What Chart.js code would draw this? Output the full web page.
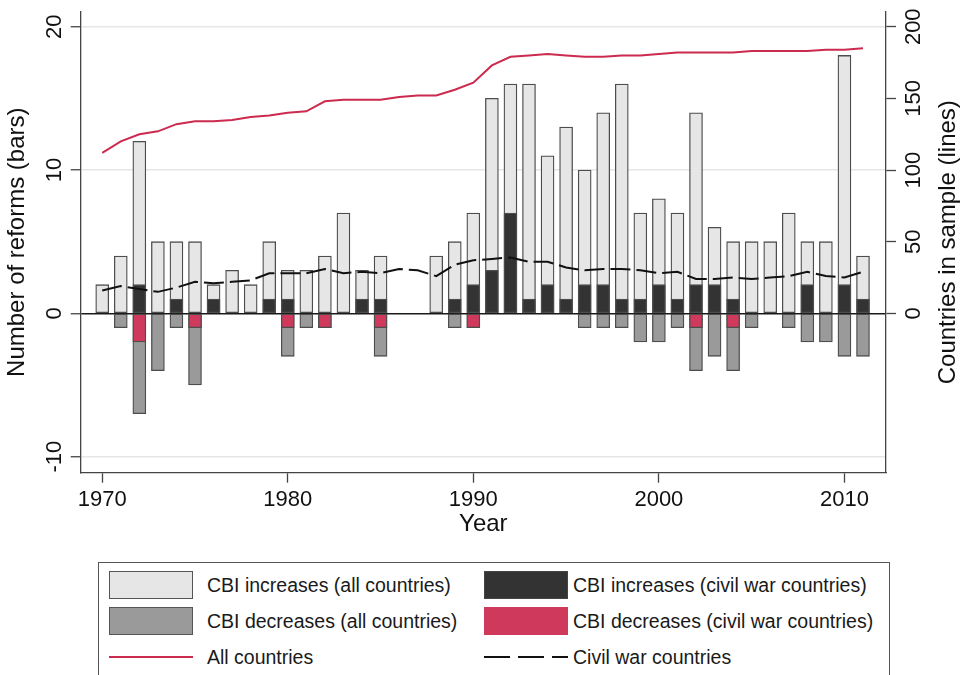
<!DOCTYPE html>
<html>
<head>
<meta charset="utf-8">
<script src="https://cdn.jsdelivr.net/npm/chart.js@4.4.1/dist/chart.umd.min.js"></script>
<style>
body { margin: 0; background: #fff; font-family: 'Liberation Sans', Arial, sans-serif; }
#wrap { position: relative; width: 962px; height: 675px; overflow: hidden; }
#chartCBI { position: absolute; left: 0; top: 0; }
.legend { position: absolute; left: 98px; top: 562px; width: 792px; height: 125px; border: 1.5px solid #555; box-sizing: border-box; }
.sw { position: absolute; width: 84px; height: 28px; box-sizing: border-box; }
.lbl { position: absolute; font-size: 19.5px; line-height: 28px; color: #1a1a1a; white-space: nowrap; }
</style>
</head>
<body>
<div id="wrap">
	<canvas id="chartCBI" width="962" height="550"></canvas>
	<div class="legend">
		<div class="sw" style="left:10px; top:8px; background:#e6e6e6; border:1.5px solid #555;"></div>
		<div class="lbl" style="left:108px; top:8px;">CBI increases (all countries)</div>
		<div class="sw" style="left:385px; top:8px; background:#333; border:1.5px solid #444;"></div>
		<div class="lbl" style="left:474px; top:8px;">CBI increases (civil war countries)</div>
		<div class="sw" style="left:10px; top:44px; background:#9a9a9a; border:1.5px solid #555;"></div>
		<div class="lbl" style="left:108px; top:44px;">CBI decreases (all countries)</div>
		<div class="sw" style="left:385px; top:44px; background:#cf3a5c;"></div>
		<div class="lbl" style="left:474px; top:44px;">CBI decreases (civil war countries)</div>
		<svg style="position:absolute; left:10px; top:80px;" width="84" height="28"><line x1="0" y1="14" x2="84" y2="14" stroke="#cc2a4e" stroke-width="2"/></svg>
		<div class="lbl" style="left:108px; top:80px;">All countries</div>
		<svg style="position:absolute; left:385px; top:80px;" width="84" height="28"><line x1="0" y1="14" x2="84" y2="14" stroke="#111" stroke-width="2" stroke-dasharray="26 8"/></svg>
		<div class="lbl" style="left:474px; top:80px;">Civil war countries</div>
	</div>
</div>
<script>
const years = [1970, 1971, 1972, 1973, 1974, 1975, 1976, 1977, 1978, 1979,
	1980, 1981, 1982, 1983, 1984, 1985, 1986, 1987, 1988, 1989,
	1990, 1991, 1992, 1993, 1994, 1995, 1996, 1997, 1998, 1999,
	2000, 2001, 2002, 2003, 2004, 2005, 2006, 2007, 2008, 2009,
	2010, 2011];

// reforms per year (bars, left axis)
const incAll   = [2, 4, 12, 5, 5, 5, 2, 3, 2, 5, 3, 3, 4, 7, 3, 4, 0, 0, 4, 5, 7, 15, 16, 16, 11, 13, 10, 14, 16, 7, 8, 7, 14, 6, 5, 5, 5, 7, 5, 5, 18, 4];
const incCivil = [0, 0, 2, 0, 1, 0, 1, 0, 0, 1, 1, 0, 0, 0, 1, 1, 0, 0, 0, 1, 2, 3, 7, 1, 2, 1, 2, 2, 1, 1, 2, 1, 2, 2, 1, 0, 0, 0, 2, 0, 2, 1];
const decAll   = [0, -1, -7, -4, -1, -5, 0, 0, 0, 0, -3, -1, -1, 0, 0, -3, 0, 0, 0, -1, -1, 0, 0, 0, 0, 0, -1, -1, -1, -2, -2, -1, -4, -3, -4, -1, 0, -1, -2, -2, -3, -3];
const decCivil = [0, 0, -2, 0, 0, -1, 0, 0, 0, 0, -1, 0, -1, 0, 0, -1, 0, 0, 0, 0, -1, 0, 0, 0, 0, 0, 0, 0, 0, 0, 0, 0, -1, 0, -1, 0, 0, 0, 0, 0, 0, 0];

// countries in sample (lines, right axis)
const sampleAll   = [112, 120, 125, 127, 132, 134, 134, 135, 137, 138, 140, 141, 148, 149, 149, 149, 151, 152, 152, 156,
	161, 173, 179, 180, 181, 180, 179, 179, 180, 180, 181, 182, 182, 182, 182, 183, 183, 183, 183, 184, 184, 185];
const sampleCivil = [16, 19, 17, 15, 18, 22, 21, 22, 23, 28, 28, 28, 31, 28, 29, 28, 31, 30, 26, 34,
	37, 38, 39, 36, 36, 32, 30, 31, 31, 30, 28, 29, 24, 24, 25, 24, 25, 26, 29, 26, 25, 29];

const yearTicks = [1970, 1980, 1990, 2000, 2010];
const reformTicks = [-10, 0, 10, 20];
const countryTicks = [0, 50, 100, 150, 200];

const FONT = "'Liberation Sans', Arial, sans-serif";
Chart.defaults.font.family = FONT;
Chart.defaults.color = '#111';

function barPoints(values) {
	return years.map((y, i) => ({x: y, y: values[i] === 0 ? null : values[i]}));
}

function linePoints(values) {
	return years.map((y, i) => ({x: y, y: values[i]}));
}

function barSet(label, values, color, order) {
	return {
		type: 'bar',
		label: label,
		data: barPoints(values),
		backgroundColor: color,
		borderColor: '#4d4d4d',
		borderWidth: 1.3,
		borderSkipped: false,
		barThickness: 13,
		grouped: false,
		yAxisID: 'y',
		order: order
	};
}

// no extra room for the rotated tick labels, the plot box is fixed
function noPadding(s) {
	s.paddingTop = 0;
	s.paddingBottom = 0;
	s.paddingLeft = 0;
	s.paddingRight = 0;
}

const rightTitle = {
	id: 'rightTitle',
	afterDraw: (chart) => {
		const {ctx} = chart;
		const s = chart.scales.y2;
		ctx.save();
		ctx.translate(s.right - 13.4, (s.top + s.bottom) / 2);
		ctx.rotate(-Math.PI / 2);
		ctx.font = '24px ' + FONT;
		ctx.fillStyle = '#111';
		ctx.textAlign = 'center';
		ctx.textBaseline = 'middle';
		ctx.fillText('Countries in sample (lines)', 0, 0);
		ctx.restore();
	}
};

const axisColor = '#444';

let chartConfig = {
	type: 'bar',
	data: {
		datasets: [
			{
				type: 'line',
				label: 'All countries',
				data: linePoints(sampleAll),
				borderColor: '#cc2a4e',
				borderWidth: 2,
				pointRadius: 0,
				fill: false,
				yAxisID: 'y2',
				order: 0
			},
			{
				type: 'line',
				label: 'Civil war countries',
				data: linePoints(sampleCivil),
				borderColor: '#111',
				borderWidth: 2,
				borderDash: [20, 6],
				pointRadius: 0,
				fill: false,
				yAxisID: 'y2',
				order: 0
			},
			barSet('CBI increases (civil war countries)', incCivil, '#333333', 1),
			barSet('CBI decreases (civil war countries)', decCivil, '#cf3a5c', 1),
			barSet('CBI increases (all countries)', incAll, '#e6e6e6', 2),
			barSet('CBI decreases (all countries)', decAll, '#9a9a9a', 2)
		]
	},
	options: {
		responsive: false,
		animation: false,
		layout: {
			padding: {top: 11.7, left: 0, right: 0, bottom: 0}
		},
		plugins: {
			legend: {display: false},
			tooltip: {enabled: false}
		},
		scales: {
			x: {
				type: 'linear',
				min: 1968.84,
				max: 2012.24,
				offset: false,
				afterBuildTicks: (s) => { s.ticks = yearTicks.map(v => ({value: v})); },
				afterFit: (s) => { s.height = 77.3; noPadding(s); },
				grid: {
					offset: false,
					drawOnChartArea: false,
					tickLength: 10,
					tickColor: axisColor,
					tickWidth: 1.3
				},
				border: {color: axisColor, width: 1.3},
				ticks: {
					font: {size: 22},
					color: '#111',
					padding: 4,
					maxRotation: 0,
					autoSkip: false,
					callback: (v) => String(v)
				},
				title: {
					display: true,
					text: 'Year',
					font: {size: 24},
					color: '#111',
					padding: {top: 0, bottom: 11.6}
				}
			},
			y: {
				position: 'left',
				min: -11.12,
				max: 21.05,
				afterBuildTicks: (s) => { s.ticks = reformTicks.map(v => ({value: v})); },
				afterFit: (s) => { s.width = 80.7; noPadding(s); },
				grid: {
					color: (c) => (c.tick && c.tick.value === 0) ? '#1a1a1a' : '#e6e6e6',
					lineWidth: 1.5,
					tickLength: 10,
					tickColor: axisColor,
					tickWidth: 1.3
				},
				border: {color: axisColor, width: 1.3},
				ticks: {
					minRotation: 90,
					maxRotation: 90,
					crossAlign: 'center',
					padding: 0,
					font: {size: 22},
					color: '#111',
					callback: (v) => String(v)
				},
				title: {
					display: true,
					text: 'Number of reforms (bars)',
					font: {size: 24},
					color: '#111',
					padding: {top: 3.2, bottom: 0}
				}
			},
			y2: {
				position: 'right',
				min: -111.2,
				max: 210.5,
				afterBuildTicks: (s) => { s.ticks = countryTicks.map(v => ({value: v})); },
				afterFit: (s) => { s.width = 76; noPadding(s); },
				grid: {
					drawOnChartArea: false,
					tickLength: 10,
					tickColor: axisColor,
					tickWidth: 1.3
				},
				border: {color: axisColor, width: 1.3},
				ticks: {
					minRotation: 90,
					maxRotation: 90,
					crossAlign: 'center',
					padding: -0.6,
					font: {size: 22},
					color: '#111',
					callback: (v) => String(v)
				}
			}
		}
	},
	plugins: [rightTitle]
};

new Chart(document.getElementById('chartCBI').getContext('2d'), chartConfig);
</script>
</body>
</html>
